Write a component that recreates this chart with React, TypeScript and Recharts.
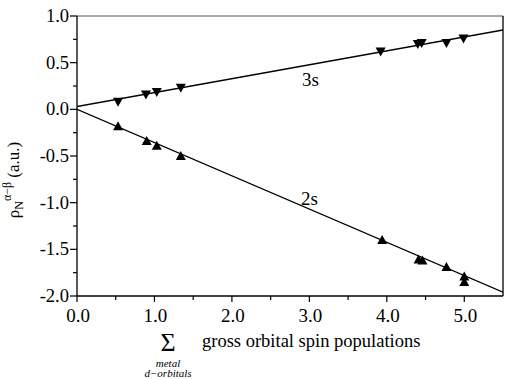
import {
  ComposedChart,
  Line,
  ReferenceLine,
  Scatter,
  XAxis,
  YAxis,
} from 'recharts'

// gross orbital spin populations summed over the metal d-orbitals
const pop3s = [0.53, 0.89, 1.03, 1.34, 3.92, 4.4, 4.45, 4.77, 4.99]
const rho3s = [0.08, 0.16, 0.185, 0.23, 0.62, 0.7, 0.71, 0.71, 0.76]
const pop2s = [0.53, 0.9, 1.03, 1.34, 3.94, 4.41, 4.46, 4.77, 5.0, 5.0]
const rho2s = [-0.18, -0.34, -0.39, -0.5, -1.4, -1.61, -1.62, -1.69, -1.79, -1.85]

// linear fits drawn across the full x range
const fitX = [0, 5.5]
const fit3sY = [0.03, 0.85]
const fit2sY = [0.0, -1.96]

const xTicks = [0, 0.5, 1, 1.5, 2, 2.5, 3, 3.5, 4, 4.5, 5, 5.5]
const yTicks = [-2, -1.75, -1.5, -1.25, -1, -0.75, -0.5, -0.25, 0, 0.25, 0.5, 0.75, 1]

const FONT = 'Liberation Serif'

const zip = (xs: number[], ys: number[]) => xs.map((x, i) => ({ x, y: ys[i] }))

const data3s = zip(pop3s, rho3s)
const data2s = zip(pop2s, rho2s)
const line3s = zip(fitX, fit3sY)
const line2s = zip(fitX, fit2sY)

const isMajor = (v: number) => Math.abs(v * 2 - Math.round(v * 2)) < 1e-6

function XTick({ x, y, payload }: any) {
  const v = payload.value
  const major = Number.isInteger(v)
  if (v === 5.5) return null
  return (
    <g>
      <line x1={x} x2={x} y1={y} y2={y + (major ? 6 : 4)} stroke="#000" strokeWidth={1.2} />
      {major && (
        <text x={x + 1} y={y + 26} textAnchor="middle" fontSize={19} fontFamily={FONT} fill="#000">
          {v.toFixed(1)}
        </text>
      )}
    </g>
  )
}

function YTick({ x, y, payload }: any) {
  const v = payload.value
  const major = isMajor(v)
  return (
    <g>
      <line x1={x} x2={x - (major ? 7 : 4)} y1={y} y2={y} stroke="#000" strokeWidth={1.2} />
      {major && (
        <text x={x - 8} y={y + 6} textAnchor="end" fontSize={18.5} fontFamily={FONT} fill="#000">
          {v.toFixed(1)}
        </text>
      )}
    </g>
  )
}

function TriUp({ cx, cy }: any) {
  return <polygon points={`${cx - 5},${cy + 4} ${cx + 5},${cy + 4} ${cx},${cy - 5}`} fill="#000" />
}

function TriDown({ cx, cy }: any) {
  return <polygon points={`${cx - 5},${cy - 4} ${cx + 5},${cy - 4} ${cx},${cy + 5}`} fill="#000" />
}

export default function App() {
  return (
    <div style={{ position: 'absolute', left: 0, top: 0, background: '#fff', fontFamily: FONT }}>
      <ComposedChart
        width={505}
        height={379}
        margin={{ top: 16, right: 2, bottom: 0, left: 0 }}
        style={{ fontFamily: FONT }}
      >
        <XAxis
          type="number"
          dataKey="x"
          domain={[0, 5.5]}
          ticks={xTicks}
          interval={0}
          height={83}
          tickSize={0}
          tickMargin={0}
          tickLine={false}
          tick={<XTick />}
          axisLine={{ stroke: '#000', strokeWidth: 1.3 }}
          allowDataOverflow
        />
        <YAxis
          type="number"
          dataKey="y"
          domain={[-2, 1]}
          ticks={yTicks}
          interval={0}
          width={77}
          tickSize={0}
          tickMargin={0}
          tickLine={false}
          tick={<YTick />}
          axisLine={{ stroke: '#000', strokeWidth: 1.3 }}
          allowDataOverflow
        />
        <ReferenceLine y={1} stroke="#555" strokeWidth={1} />
        <ReferenceLine x={5.5} stroke="#000" strokeWidth={1.3} />
        <Line
          data={line3s}
          dataKey="y"
          stroke="#000"
          strokeWidth={1.3}
          dot={false}
          activeDot={false}
          isAnimationActive={false}
        />
        <Line
          data={line2s}
          dataKey="y"
          stroke="#000"
          strokeWidth={1.3}
          dot={false}
          activeDot={false}
          isAnimationActive={false}
        />
        <Scatter data={data3s} dataKey="y" shape={<TriDown />} isAnimationActive={false} />
        <Scatter data={data2s} dataKey="y" shape={<TriUp />} isAnimationActive={false} />

        <text x={302} y={86} fontSize={19} fontFamily={FONT} fill="#000">3s</text>
        <text x={301} y={205} fontSize={19} fontFamily={FONT} fill="#000">2s</text>

        <text
          transform="translate(19,180) rotate(-90)"
          textAnchor="middle"
          fontSize={17}
          fontFamily={FONT}
          fill="#000"
        >
          <tspan>ρ</tspan>
          <tspan fontSize={12} dy={4}>N</tspan>
          <tspan fontSize={12} dy={-12}>α−β</tspan>
          <tspan dy={8}> (a.u.)</tspan>
        </text>

        <text x={168} y={351} textAnchor="middle" fontSize={26} fontFamily={FONT} fill="#000">Σ</text>
        <text x={168} y={367} textAnchor="middle" fontSize={11} fontStyle="italic" fontFamily={FONT} fill="#000">metal</text>
        <text x={168} y={377} textAnchor="middle" fontSize={11} fontStyle="italic" fontFamily={FONT} fill="#000">d−orbitals</text>
        <text x={202} y={347} fontSize={18.5} fontFamily={FONT} fill="#000">gross orbital spin populations</text>
      </ComposedChart>
    </div>
  )
}
